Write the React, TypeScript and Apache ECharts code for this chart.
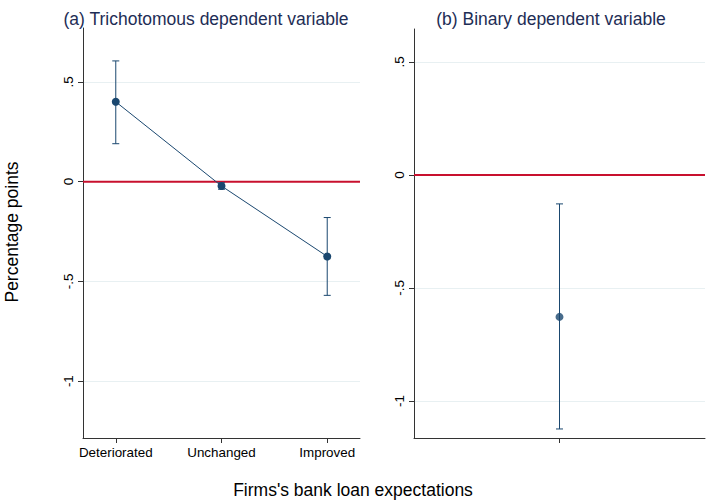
import React, { useEffect, useRef } from "react";
import * as echarts from "echarts";

const categoriesA = ["Deteriorated", "Unchanged", "Improved"];
const pointsA = [0.40, -0.022, -0.375];
const lowA = [0.19, -0.038, -0.57];
const highA = [0.605, -0.006, -0.18];

const pointsB = [-0.628];
const lowB = [-1.124];
const highB = [-0.128];

const yTicks = [-1, -0.5, 0, 0.5];
const tickLabel = (v: number) => {
  if (Math.abs(v) < 1e-9) return "0";
  if (Math.abs(v - 0.5) < 1e-9) return ".5";
  if (Math.abs(v + 0.5) < 1e-9) return "-.5";
  if (Math.abs(v + 1) < 1e-9) return "-1";
  return "";
};

const NAVY = "#1a476f";
const RED = "#c8102e";
const GRID = "#e8f0f2";
const FONT = "Liberation Sans, Arial, sans-serif";

export default function App() {
  const ref = useRef<HTMLDivElement>(null);
  useEffect(() => {
    if (!ref.current) return;
    const chart = echarts.init(ref.current, undefined, { renderer: "svg" });

    const errRender = (params: any, api: any) => {
      const x = api.value(0);
      const lo = api.coord([x, api.value(1)]);
      const hi = api.coord([x, api.value(2)]);
      const w = 3.5;
      const style = { stroke: NAVY, lineWidth: 1 };
      return {
        type: "group",
        children: [
          { type: "line", shape: { x1: lo[0], y1: lo[1], x2: hi[0], y2: hi[1] }, style },
          { type: "line", shape: { x1: lo[0] - w, y1: lo[1], x2: lo[0] + w, y2: lo[1] }, style },
          { type: "line", shape: { x1: hi[0] - w, y1: hi[1], x2: hi[0] + w, y2: hi[1] }, style },
        ],
      };
    };

    const yAxisCommon = (idx: number, min: number, max: number) => ({
      type: "value",
      gridIndex: idx,
      min,
      max,
      axisLine: { show: true, lineStyle: { color: "#333", width: 1 } },
      axisTick: { show: true, length: 5, lineStyle: { color: "#333" }, customValues: yTicks },
      axisLabel: {
        rotate: 90,
        color: "#000",
        fontSize: 13.4,
        fontFamily: FONT,
        margin: 8,
        customValues: yTicks,
        formatter: (v: number) => tickLabel(v),
      },
      splitLine: { show: true, lineStyle: { color: GRID, width: 1 } },
    });

    const xA = categoriesA.map((_, i) => i + 1);

    chart.setOption({
      animation: false,
      backgroundColor: "#fff",
      title: [
        {
          text: "(a) Trichotomous dependent variable",
          left: 201,
          top: 5,
          textAlign: "center",
          textStyle: { color: "#1e2d55", fontSize: 17.5, fontWeight: "normal", fontFamily: FONT },
        },
        {
          text: "(b) Binary dependent variable",
          left: 546,
          top: 5,
          textAlign: "center",
          textStyle: { color: "#1e2d55", fontSize: 17.5, fontWeight: "normal", fontFamily: FONT },
        },
      ],
      graphic: [
        {
          type: "text",
          x: 12,
          y: 232,
          rotation: Math.PI / 2,
          style: {
            text: "Percentage points",
            fill: "#000",
            fontSize: 17.5,
            fontFamily: FONT,
            align: "center",
            verticalAlign: "middle",
          },
        },
        {
          type: "text",
          x: 353,
          y: 490,
          style: {
            text: "Firms's bank loan expectations",
            fill: "#000",
            fontSize: 17.5,
            fontFamily: FONT,
            align: "center",
            verticalAlign: "middle",
          },
        },
      ],
      grid: [
        { left: 83, top: 28, width: 277, height: 410 },
        { left: 414, top: 29, width: 291, height: 409 },
      ],
      xAxis: [
        {
          type: "value",
          gridIndex: 0,
          min: 0.69,
          max: 3.31,
          axisLine: { show: true, onZero: false, lineStyle: { color: "#333" } },
          axisTick: { show: true, length: 5, lineStyle: { color: "#333" }, customValues: xA },
          axisLabel: {
            color: "#000",
            fontSize: 13.4,
            fontFamily: FONT,
            margin: 8,
            customValues: xA,
            formatter: (v: number) => categoriesA[Math.round(v) - 1] ?? "",
          },
          splitLine: { show: false },
        },
        {
          type: "value",
          gridIndex: 1,
          min: 0,
          max: 2,
          axisLine: { show: true, onZero: false, lineStyle: { color: "#333" } },
          axisTick: { show: true, length: 5, lineStyle: { color: "#333" }, customValues: [1] },
          axisLabel: { show: false },
          splitLine: { show: false },
        },
      ],
      yAxis: [yAxisCommon(0, -1.285, 0.77), yAxisCommon(1, -1.164, 0.646)],
      series: [
        {
          type: "line",
          xAxisIndex: 0,
          yAxisIndex: 0,
          data: [[0.69, 0], [3.31, 0]],
          symbol: "none",
          lineStyle: { color: RED, width: 2 },
          z: 1,
          silent: true,
        },
        {
          type: "line",
          xAxisIndex: 1,
          yAxisIndex: 1,
          data: [[0, 0], [2, 0]],
          symbol: "none",
          lineStyle: { color: RED, width: 2 },
          z: 1,
          silent: true,
        },
        {
          type: "custom",
          xAxisIndex: 0,
          yAxisIndex: 0,
          renderItem: errRender,
          data: xA.map((x, i) => [x, lowA[i], highA[i]]),
          z: 2,
        },
        {
          type: "custom",
          xAxisIndex: 1,
          yAxisIndex: 1,
          renderItem: errRender,
          data: pointsB.map((_, i) => [1, lowB[i], highB[i]]),
          z: 2,
        },
        {
          type: "line",
          xAxisIndex: 0,
          yAxisIndex: 0,
          data: xA.map((x, i) => [x, pointsA[i]]),
          symbol: "circle",
          symbolSize: 8,
          itemStyle: { color: NAVY },
          lineStyle: { color: NAVY, width: 1 },
          z: 3,
        },
        {
          type: "scatter",
          xAxisIndex: 1,
          yAxisIndex: 1,
          data: pointsB.map((v) => [1, v]),
          symbol: "circle",
          symbolSize: 8,
          itemStyle: { color: NAVY },
          z: 3,
        },
      ],
    });
    return () => chart.dispose();
  }, []);
  return <div ref={ref} style={{ width: 706, height: 500, position: "absolute", left: 0, top: 0 }} />;
}
